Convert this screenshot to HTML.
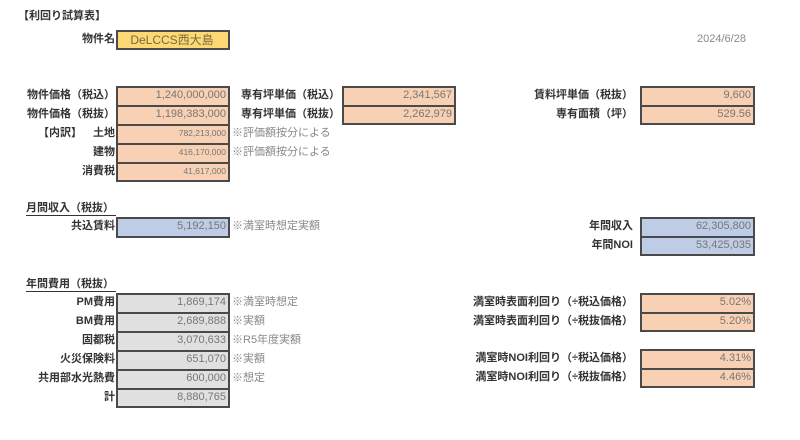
<!DOCTYPE html>
<html><head><meta charset="utf-8"><style>
body{margin:0;width:800px;height:440px;background:#fff;position:relative;overflow:hidden;font-family:"Liberation Sans","Noto Sans CJK JP",sans-serif;}
.l{position:absolute;font-size:11px;font-weight:bold;color:#333;text-align:right;white-space:nowrap;line-height:19px;}
.b{position:absolute;box-sizing:border-box;border:2px solid #4a4a4a;font-size:11px;color:#777;text-align:right;padding-right:2px;line-height:15px;white-space:nowrap;}
.o{background:#f8d0b4}.g{background:#e0e0e0}.bl{background:#bfcce6}.y{background:#fdd975}
.s{font-size:8.5px}
.n{position:absolute;font-size:11px;color:#888;line-height:19px;white-space:nowrap;}
.h{position:absolute;font-size:11px;font-weight:bold;color:#333;border-bottom:1px solid #333;width:90px;line-height:14px;}
</style></head><body>
<div class="l" style="left:18px;top:7px;text-align:left">【利回り試算表】</div>
<div class="l" style="right:685px;top:30px">物件名</div>
<div class="b y" style="left:116px;top:30px;width:114px;height:20px;text-align:center;color:#7a6a3a;font-size:12px;line-height:16px">DeLCCS西大島</div>
<div class="n" style="left:697px;top:30px">2024/6/28</div>

<div class="l" style="right:685px;top:86px">物件価格（税込）</div>
<div class="l" style="right:685px;top:105px">物件価格（税抜）</div>
<div class="l" style="right:685px;top:124px">土地</div>
<div class="l" style="left:38px;top:124px">【内訳】</div>
<div class="l" style="right:685px;top:143px">建物</div>
<div class="l" style="right:685px;top:162px">消費税</div>
<div class="b o" style="left:116px;top:86px;width:114px;height:21px">1,240,000,000</div>
<div class="b o" style="left:116px;top:105px;width:114px;height:21px">1,198,383,000</div>
<div class="b o s" style="left:116px;top:124px;width:114px;height:21px">782,213,000</div>
<div class="b o s" style="left:116px;top:143px;width:114px;height:21px">416,170,000</div>
<div class="b o s" style="left:116px;top:162px;width:114px;height:20px">41,617,000</div>
<div class="n" style="left:232px;top:124px">※評価額按分による</div>
<div class="n" style="left:232px;top:143px">※評価額按分による</div>

<div class="l" style="right:460px;top:86px">専有坪単価（税込）</div>
<div class="l" style="right:460px;top:105px">専有坪単価（税抜）</div>
<div class="b o" style="left:342px;top:86px;width:114px;height:21px">2,341,567</div>
<div class="b o" style="left:342px;top:105px;width:114px;height:20px">2,262,979</div>

<div class="l" style="right:167px;top:86px">賃料坪単価（税抜）</div>
<div class="l" style="right:167px;top:105px">専有面積（坪）</div>
<div class="b o" style="left:640px;top:86px;width:115px;height:21px">9,600</div>
<div class="b o" style="left:640px;top:105px;width:115px;height:20px">529.56</div>

<div class="h" style="left:26px;top:201px">月間収入（税抜）</div>
<div class="l" style="right:685px;top:217px">共込賃料</div>
<div class="b bl" style="left:116px;top:217px;width:114px;height:21px">5,192,150</div>
<div class="n" style="left:232px;top:217px">※満室時想定実額</div>

<div class="l" style="right:167px;top:217px">年間収入</div>
<div class="l" style="right:167px;top:236px">年間NOI</div>
<div class="b bl" style="left:640px;top:217px;width:115px;height:21px">62,305,800</div>
<div class="b bl" style="left:640px;top:236px;width:115px;height:20px">53,425,035</div>

<div class="h" style="left:26px;top:277px">年間費用（税抜）</div>
<div class="l" style="right:685px;top:293px">PM費用</div>
<div class="l" style="right:685px;top:312px">BM費用</div>
<div class="l" style="right:685px;top:331px">固都税</div>
<div class="l" style="right:685px;top:350px">火災保険料</div>
<div class="l" style="right:685px;top:369px">共用部水光熱費</div>
<div class="l" style="right:685px;top:388px">計</div>
<div class="b g" style="left:116px;top:293px;width:114px;height:21px">1,869,174</div>
<div class="b g" style="left:116px;top:312px;width:114px;height:21px">2,689,888</div>
<div class="b g" style="left:116px;top:331px;width:114px;height:21px">3,070,633</div>
<div class="b g" style="left:116px;top:350px;width:114px;height:21px">651,070</div>
<div class="b g" style="left:116px;top:369px;width:114px;height:21px">600,000</div>
<div class="b g" style="left:116px;top:388px;width:114px;height:20px">8,880,765</div>
<div class="n" style="left:232px;top:293px">※満室時想定</div>
<div class="n" style="left:232px;top:312px">※実額</div>
<div class="n" style="left:232px;top:331px">※R5年度実額</div>
<div class="n" style="left:232px;top:350px">※実額</div>
<div class="n" style="left:232px;top:369px">※想定</div>

<div class="l" style="right:167px;top:293px">満室時表面利回り（÷税込価格）</div>
<div class="l" style="right:167px;top:312px">満室時表面利回り（÷税抜価格）</div>
<div class="b o" style="left:640px;top:293px;width:115px;height:21px">5.02%</div>
<div class="b o" style="left:640px;top:312px;width:115px;height:20px">5.20%</div>
<div class="l" style="right:167px;top:349px">満室時NOI利回り（÷税込価格）</div>
<div class="l" style="right:167px;top:368px">満室時NOI利回り（÷税抜価格）</div>
<div class="b o" style="left:640px;top:349px;width:115px;height:21px">4.31%</div>
<div class="b o" style="left:640px;top:368px;width:115px;height:20px">4.46%</div>
</body></html>
